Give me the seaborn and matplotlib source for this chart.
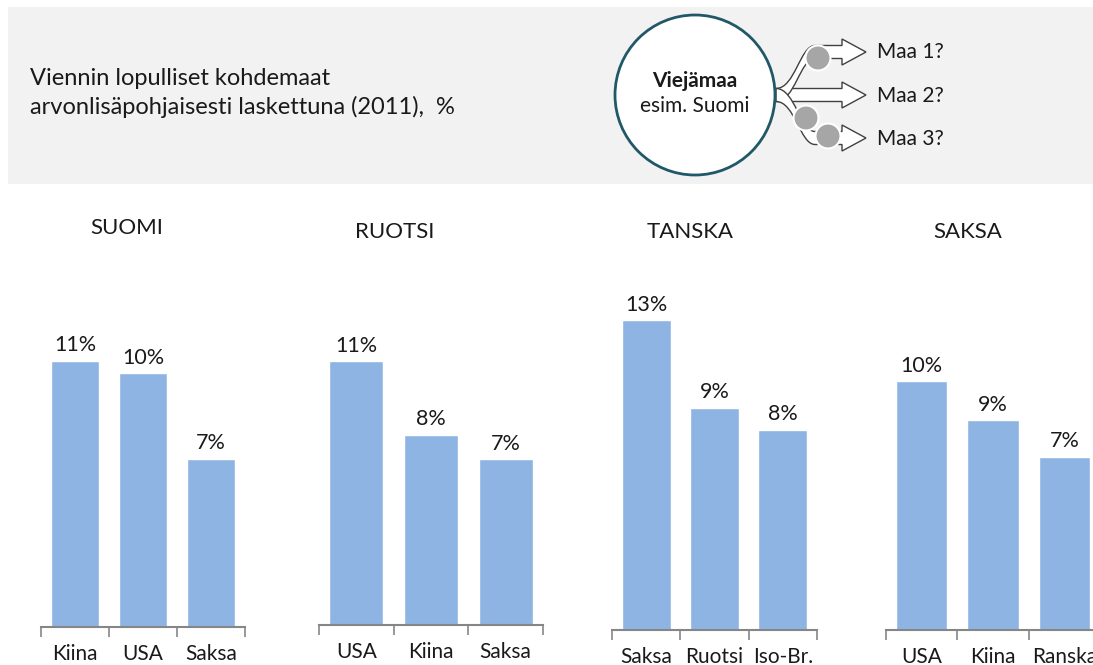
import matplotlib
matplotlib.use("Agg")
import matplotlib.pyplot as plt
import seaborn as sns
import pandas as pd
from matplotlib.patches import Circle, Rectangle, PathPatch
from matplotlib.path import Path

sns.set_theme(style="white")
plt.rcParams['font.family'] = ['Lato', 'DejaVu Sans']

# ---- data ----
titles = ["SUOMI", "RUOTSI", "TANSKA", "SAKSA"]
cats_suomi = ["Kiina", "USA", "Saksa"]
vals_suomi = [10.9, 10.4, 6.9]
cats_ruotsi = ["USA", "Kiina", "Saksa"]
vals_ruotsi = [10.8, 7.8, 6.8]
cats_tanska = ["Saksa", "Ruotsi", "Iso-Br."]
vals_tanska = [12.7, 9.1, 8.2]
cats_saksa = ["USA", "Kiina", "Ranska"]
vals_saksa = [10.2, 8.6, 7.1]
header_text = "Viennin lopulliset kohdemaat\narvonlisäpohjaisesti laskettuna (2011),  %"
targets = ["Maa 1?", "Maa 2?", "Maa 3?"]

panels = [(cats_suomi, vals_suomi), (cats_ruotsi, vals_ruotsi),
          (cats_tanska, vals_tanska), (cats_saksa, vals_saksa)]

W, H = 1093, 665
fig = plt.figure(figsize=(W / 100, H / 100), dpi=100)
fig.patch.set_facecolor("white")
txt = "#1a1a1a"

# ---- header overlay (pixel coordinates) ----
ov = fig.add_axes([0, 0, 1, 1], zorder=0)
ov.set_xlim(0, W)
ov.set_ylim(H, 0)
ov.axis("off")
ov.add_patch(Rectangle((8, 7), W, 177, facecolor="#f2f2f2", edgecolor="none"))
ov.text(30, 93, header_text, fontsize=17, va="center", ha="left",
        color=txt, linespacing=1.4)

def arrow_path(ty, sy=95, w=6.5, hw=13, x0=776, xb=815, xh=842, xt=866):
    verts = [(x0, sy - w), (795, sy - w), (800, ty - w), (xb, ty - w),
             (xh, ty - w), (xh, ty - hw), (xt, ty), (xh, ty + hw), (xh, ty + w),
             (xb, ty + w), (800, ty + w), (795, sy + w), (x0, sy + w), (x0, sy - w)]
    codes = [Path.MOVETO, Path.CURVE4, Path.CURVE4, Path.CURVE4,
             Path.LINETO, Path.LINETO, Path.LINETO, Path.LINETO, Path.LINETO,
             Path.LINETO, Path.CURVE4, Path.CURVE4, Path.CURVE4, Path.CLOSEPOLY]
    return Path(verts, codes)

for ty in [95, 52, 138]:
    ov.add_patch(PathPatch(arrow_path(ty), facecolor="white", edgecolor="#404040", lw=1.0))

for (cx, cy) in [(818, 58), (806, 118), (828, 136)]:
    ov.add_patch(Circle((cx, cy), 12.5, facecolor="#a6a6a6", edgecolor="white", lw=1.5))

ov.add_patch(Circle((695, 95), 80, facecolor="white", edgecolor="#215868", lw=2.0))
ov.text(695, 81, "Viejämaa", fontsize=15, fontweight="bold", ha="center", va="center", color=txt)
ov.text(695, 106, "esim. Suomi", fontsize=15, ha="center", va="center", color=txt)
for t, ty in zip(targets, [52, 96, 139]):
    ov.text(877, ty, t, fontsize=15, ha="left", va="center", color=txt)

# ---- bar panels ----
px_per_pct = 24.4
top_px = 290
# (left px, right px, baseline px, title x px, title y px)
geom = [(41, 245, 627, 127, 228), (319, 543, 625, 395, 232),
        (612, 817, 630, 690, 232), (886, 1100, 630, 968, 232)]

bar_color = "#8eb4e3"
for (cats, vals), (x0, x1, base, tx, tyy), title in zip(panels, geom, titles):
    ax = fig.add_axes([x0 / W, (H - base) / H, (x1 - x0) / W, (base - top_px) / H], zorder=1)
    ax.patch.set_alpha(0)
    df = pd.DataFrame({"land": cats, "share": vals})
    sns.barplot(data=df, x="land", y="share", ax=ax, color=bar_color,
                saturation=1, width=0.72)
    ax.set_xlim(-0.5, 2.5)
    ax.set_ylim(0, (base - top_px) / px_per_pct)
    for s in ["top", "right", "left"]:
        ax.spines[s].set_visible(False)
    ax.spines["bottom"].set_color("#868686")
    ax.spines["bottom"].set_linewidth(1.5)
    ax.set_yticks([])
    ax.set_xlabel("")
    ax.set_ylabel("")
    ax.set_xticks([-0.5, 0.5, 1.5, 2.5], minor=True)
    ax.tick_params(axis="x", which="minor", length=7, width=1.2, color="#868686",
                   direction="out", bottom=True)
    ax.tick_params(axis="x", which="major", length=0, pad=12, labelsize=15,
                   labelcolor=txt)
    for c in ax.containers:
        ax.bar_label(c, labels=[f"{v:.0f}%" for v in vals], padding=4,
                     fontsize=15.5, color=txt)
    fig.text(tx / W, (H - tyy) / H, title, fontsize=16, ha="center", va="center",
             color=txt)

fig.savefig("out.png", dpi=100)
